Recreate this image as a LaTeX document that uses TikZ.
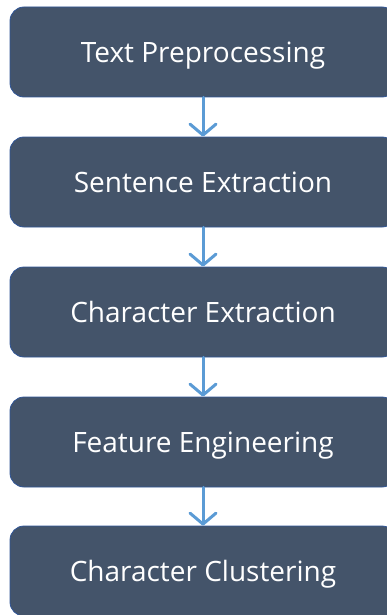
\documentclass[tikz,border=0pt]{standalone}
\usepackage{fontspec}
\setmainfont{Open Sans}
\usetikzlibrary{arrows.meta}

\definecolor{boxfill}{HTML}{44546A}
\definecolor{boxline}{HTML}{2F5597}
\definecolor{flowarrow}{HTML}{5B9BD5}

\begin{document}
\begin{tikzpicture}[
    stage/.style={rectangle, rounded corners=14pt, fill=boxfill, draw=boxline,
      line width=0.8pt, minimum width=386pt, minimum height=90pt,
      text=white, text depth=0pt, font=\fontsize{28}{33}\selectfont},
    flow/.style={draw=flowarrow, line width=3pt, line cap=round,
      -{Straight Barb[length=11pt, width=26pt, line width=3pt, round]}}
  ]
    % page size
    \useasboundingbox (0,0) rectangle (386pt,-615pt);

    % the five stages
    \node[stage] (prep)    at (203pt,-52pt)  {Text Preprocessing};
    \node[stage] (sent)    at (203pt,-182pt) {Sentence Extraction};
    \node[stage] (charext) at (203pt,-312pt) {Character Extraction};
    \node[stage] (feat)    at (203pt,-442pt) {Feature Engineering};
    \node[stage] (clust)   at (203pt,-571pt) {Character Clustering};

    % arrows between stages
    \draw[flow] (prep.south)    -- (sent.north);
    \draw[flow] (sent.south)    -- (charext.north);
    \draw[flow] (charext.south) -- (feat.north);
    \draw[flow] (feat.south)    -- (clust.north);
\end{tikzpicture}
\end{document}
